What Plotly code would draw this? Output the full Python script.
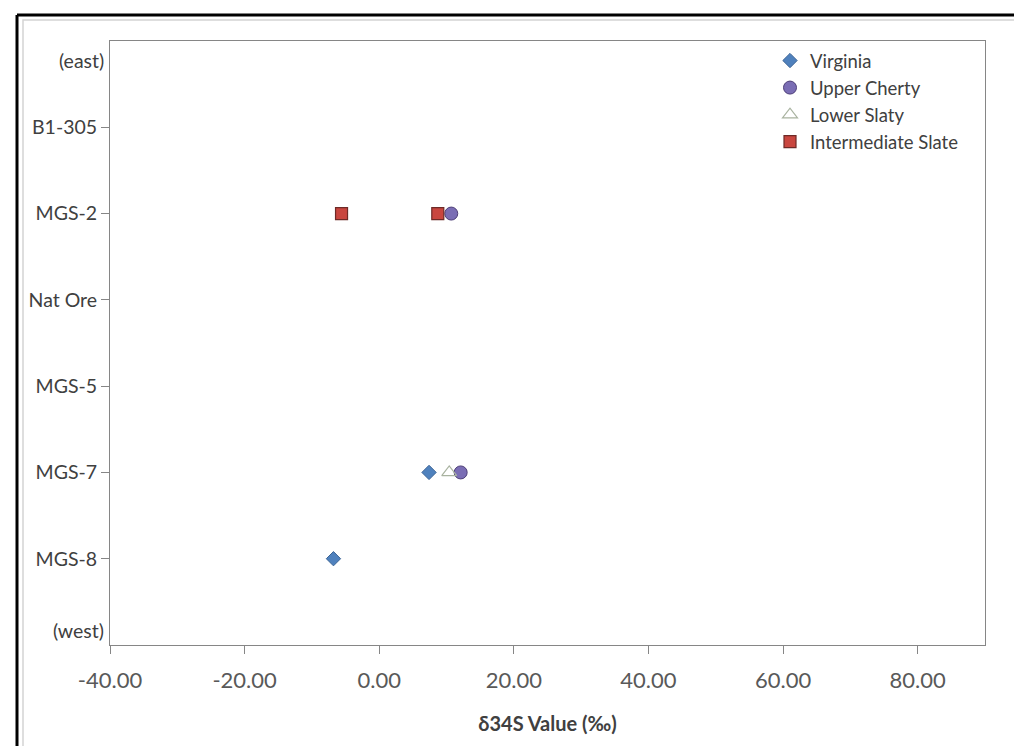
import plotly.graph_objects as go

# ---- data ----
sites = ["MGS-8", "MGS-7", "MGS-5", "Nat Ore", "MGS-2", "B1-305"]
site_pos = [1, 2, 3, 4, 5, 6]

virginia_x = [-6.8, 7.4]
virginia_y = [1, 2]

upper_cherty_x = [10.7, 12.1]
upper_cherty_y = [5, 2]

lower_slaty_x = [10.4]
lower_slaty_y = [2]

intermediate_x = [-5.6, 8.7]
intermediate_y = [5, 5]

x_ticks = [-40, -20, 0, 20, 40, 60, 80]

W, H = 1022, 746
L, R, T, B = 102, 45, 33, 109
PW, PH = W - L - R, H - T - B


def px(x):
    return (x - L) / PW


def py(y):
    return 1 - (y - T) / PH


FONT = "Lato, 'Open Sans', sans-serif"

fig = go.Figure()
fig.add_trace(go.Scatter(
    x=virginia_x, y=virginia_y, mode="markers", name="Virginia",
    marker=dict(symbol="diamond", size=11, color="#4F81BD",
                line=dict(color="#3A6395", width=1))))
fig.add_trace(go.Scatter(
    x=upper_cherty_x, y=upper_cherty_y, mode="markers", name="Upper Cherty",
    marker=dict(symbol="circle", size=13, color="#7A6DB4",
                line=dict(color="#4E3F78", width=1))))
fig.add_trace(go.Scatter(
    x=lower_slaty_x, y=lower_slaty_y, mode="markers", name="Lower Slaty",
    marker=dict(symbol="triangle-up-open", size=13, color="#A9B3A0",
                line=dict(color="#A9B3A0", width=1.2))))
fig.add_trace(go.Scatter(
    x=intermediate_x, y=intermediate_y, mode="markers", name="Intermediate Slate",
    marker=dict(symbol="square", size=12, color="#C9463F",
                line=dict(color="#6E2A27", width=1.2))))

shapes = [
    # outer chart border (light gray)
    dict(type="rect", xref="paper", yref="paper",
         x0=px(15), x1=px(1018), y0=py(742), y1=py(12),
         line=dict(color="#D4D4D4", width=1.5), layer="below"),
    # black frame lines top/left
    dict(type="line", xref="paper", yref="paper",
         x0=px(9), x1=px(1030), y0=py(7), y1=py(7),
         line=dict(color="black", width=3)),
    dict(type="line", xref="paper", yref="paper",
         x0=px(9), x1=px(9), y0=py(7), y1=py(760),
         line=dict(color="black", width=3)),
]

annotations = [
    dict(text="(east)", x=0, y=7, xref="paper", yref="y", xanchor="right",
         yanchor="middle", xshift=-4, yshift=-19, showarrow=False,
         font=dict(family=FONT, size=19.5, color="#404040")),
    dict(text="(west)", x=0, y=0, xref="paper", yref="y", xanchor="right",
         yanchor="middle", xshift=-4, yshift=15, showarrow=False,
         font=dict(family=FONT, size=19.5, color="#404040")),
]

fig.update_layout(
    width=W, height=H,
    margin=dict(l=L, r=R, t=T, b=B, pad=0),
    paper_bgcolor="white", plot_bgcolor="white",
    font=dict(family=FONT, color="#404040"),
    shapes=shapes, annotations=annotations,
    showlegend=True,
    legend=dict(x=px(762), y=py(34), xanchor="left", yanchor="top",
                bgcolor="rgba(0,0,0,0)", borderwidth=0,
                font=dict(family=FONT, size=18.5, color="#404040"),
                itemwidth=30, tracegroupgap=0),
    xaxis=dict(range=[-40, 90], tickvals=x_ticks,
               ticktext=[f"{v:.2f}" for v in x_ticks],
               showgrid=False, zeroline=False,
               showline=True, linecolor="#868686", linewidth=1, mirror=True,
               ticks="outside", ticklen=8, tickcolor="#868686",
               ticklabelstandoff=8,
               tickfont=dict(family=FONT, size=22, color="#595959"),
               title=dict(text="<b>δ34S Value (‰)</b>", standoff=24,
                          font=dict(family=FONT, size=20, color="#404040"))),
    yaxis=dict(range=[0, 7], tickvals=site_pos, ticktext=sites,
               showgrid=False, zeroline=False,
               showline=True, linecolor="#868686", linewidth=1, mirror=True,
               ticks="outside", ticklen=8, tickcolor="#868686",
               tickfont=dict(family=FONT, size=19.5, color="#404040")),
)

fig.write_html("out.html")
